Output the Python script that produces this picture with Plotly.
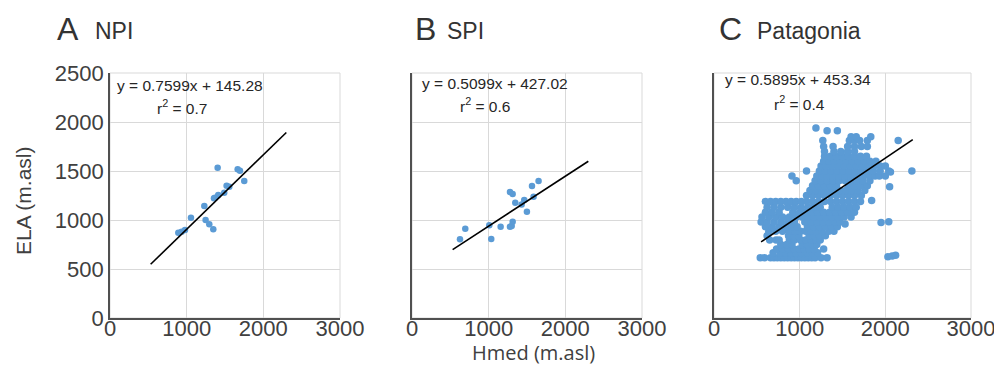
import plotly.graph_objects as go

# ---------------- data ----------------
npi_hmed = [1404, 1665, 1695, 1751, 1521, 1556, 1490, 1412, 1369, 1356, 1230, 1056, 1247, 1295, 1347, 891, 934, 978]
npi_ela = [1534, 1517, 1503, 1398, 1350, 1340, 1279, 1255, 1228, 1221, 1143, 1023, 1000, 956, 905, 870, 881, 898]

spi_hmed = [626, 695, 1034, 1008, 1156, 1278, 1300, 1313, 1278, 1313, 1347, 1430, 1464, 1499, 1586, 1565, 1651]
spi_ela = [803, 911, 806, 946, 932, 932, 939, 983, 1286, 1265, 1177, 1157, 1204, 1085, 1238, 1347, 1398]

# Patagonia: rows of (ELA, [Hmed values]), plus scattered points
pat_rows = [
    (615, [540, 590, 660, 700, 740, 780, 820, 860, 900, 940, 980, 1020, 1060, 1100, 1140, 1180, 1250, 1320]),
    (665, [690, 770, 840, 900, 960, 1020, 1090, 1150, 1210]),
    (705, [730, 800, 870, 930, 990, 1050, 1110, 1170, 1280]),
    (750, [780, 850, 910, 1030, 1090, 1150, 1200]),
    (795, [650, 725, 760, 880, 940, 1010, 1070, 1130, 1190, 1240]),
    (840, [620, 870, 930, 990, 1110, 1170, 1230, 1300]),
    (885, [640, 720, 800, 880, 950, 1010, 1070, 1130, 1190, 1260, 1340, 1400]),
    (930, [600, 680, 760, 840, 910, 970, 1090, 1160, 1230, 1300, 1370, 1440]),
    (980, [550, 620, 700, 780, 860, 940, 1060, 1130, 1200, 1270, 1340, 1410, 1470]),
    (1030, [560, 640, 720, 800, 880, 960, 1030, 1100, 1170, 1240, 1310, 1380, 1450, 1520, 1600]),
    (1080, [600, 680, 760, 920, 1000, 1070, 1140, 1210, 1280, 1350, 1420, 1490, 1560, 1640]),
    (1130, [620, 700, 780, 860, 940, 1020, 1100, 1170, 1240, 1380, 1450, 1520, 1590, 1660]),
    (1190, [600, 660, 720, 780, 840, 900, 960, 1020, 1080, 1150, 1220, 1290, 1360, 1430, 1500, 1570, 1640, 1710]),
    (1250, [1080, 1150, 1220, 1290, 1360, 1430, 1500, 1570, 1640, 1720]),
    (1300, [1120, 1190, 1260, 1330, 1400, 1470, 1540, 1610, 1680, 1760]),
    (1350, [1150, 1220, 1290, 1360, 1430, 1570, 1640, 1710, 1790]),
    (1400, [960, 1180, 1250, 1320, 1390, 1460, 1530, 1600, 1670, 1740, 1820]),
    (1450, [910, 1200, 1260, 1320, 1390, 1460, 1530, 1600, 1670, 1740, 1810, 1880, 1930]),
    (1500, [1080, 1230, 1300, 1370, 1440, 1510, 1580, 1650, 1720, 1790, 1860, 1940, 2040, 2310]),
    (1550, [1250, 1310, 1380, 1450, 1520, 1590, 1660, 1730, 1800, 1870, 1940, 2000]),
    (1600, [1280, 1340, 1400, 1470, 1540, 1610, 1680, 1750, 1820, 1890]),
    (1650, [1290, 1360, 1430, 1500, 1570, 1640, 1710, 1780]),
    (1700, [1290, 1400, 1480, 1560, 1640]),
    (1750, [1280, 1390, 1560, 1640, 1720, 1790]),
    (1810, [1270, 1580, 1640, 1700, 1790, 2150]),
    (1850, [1600, 1660, 1830]),
]
pat_extra_hmed = [1190, 1320, 1440, 1530, 1950, 2040, 2050, 1840, 2030, 2080, 2120, 2000, 2060]
pat_extra_ela = [1940, 1910, 1910, 960, 975, 983, 1340, 1200, 625, 632, 640, 1450, 1490]

pat_hmed = [x for ela, xs in pat_rows for x in xs] + pat_extra_hmed
pat_ela = [ela for ela, xs in pat_rows for x in xs] + pat_extra_ela

# regression lines (slope, intercept, x-extent)
panels = ["A", "B", "C"]
names = ["NPI", "SPI", "Patagonia"]
slopes = [0.7599, 0.5099, 0.5895]
intercepts = [145.28, 427.02, 453.34]
line_x = [[530, 2300], [530, 2300], [550, 2320]]
equations = ["y = 0.7599x + 145.28", "y = 0.5099x + 427.02", "y = 0.5895x + 453.34"]
r2 = ["0.7", "0.6", "0.4"]

x_ticks = [0, 1000, 2000, 3000]
y_ticks = [0, 500, 1000, 1500, 2000, 2500]

# ---------------- layout geometry ----------------
W, H = 994, 374
x_dom_px = [(110, 340), (412, 642), (714, 971)]
y_top, y_bot = 73, 318
y_dom = [1 - y_bot / H, 1 - y_top / H]

BLUE = "#5b9bd5"
AXIS = "#505050"
GRID = "#d9d9d9"
TXT = "#404040"
FONT = "Liberation Sans, Arial, sans-serif"

fig = go.Figure()
data = [(npi_hmed, npi_ela, 6.5), (spi_hmed, spi_ela, 6.5), (pat_hmed, pat_ela, 7.5)]

for i in range(3):
    xa = "x" if i == 0 else f"x{i+1}"
    ya = "y" if i == 0 else f"y{i+1}"
    xs, ys, ms = data[i]
    fig.add_trace(go.Scatter(x=xs, y=ys, mode="markers", xaxis=xa, yaxis=ya,
                             marker=dict(color=BLUE, size=ms, line=dict(width=0)),
                             showlegend=False, hoverinfo="skip"))
    lx = line_x[i]
    ly = [slopes[i] * v + intercepts[i] for v in lx]
    fig.add_trace(go.Scatter(x=lx, y=ly, mode="lines", xaxis=xa, yaxis=ya,
                             line=dict(color="black", width=1.6),
                             showlegend=False, hoverinfo="skip"))

    d = [x_dom_px[i][0] / W, x_dom_px[i][1] / W]
    xkey = "xaxis" if i == 0 else f"xaxis{i+1}"
    ykey = "yaxis" if i == 0 else f"yaxis{i+1}"
    fig.layout[xkey] = dict(domain=d, anchor=ya, range=[0, 3000], tickvals=x_ticks,
                            showgrid=True, gridcolor=GRID, gridwidth=1, zeroline=False,
                            showline=True, linecolor=AXIS, linewidth=1.6, automargin=False,
                            ticks="", ticklabelstandoff=-10, ticklabeloverflow="allow",
                            tickfont=dict(family=FONT, size=22, color=TXT),
                            fixedrange=True)
    fig.layout[ykey] = dict(domain=y_dom, anchor=xa, range=[0, 2500], tickvals=y_ticks,
                            showgrid=True, gridcolor=GRID, gridwidth=1, zeroline=False,
                            showline=True, linecolor=AXIS, linewidth=1.6, automargin=False,
                            ticks="", showticklabels=(i == 0), ticklabelstandoff=0,
                            ticklabeloverflow="allow",
                            tickfont=dict(family=FONT, size=22, color=TXT),
                            fixedrange=True)
    # light frame (top / right edges)
    fig.add_shape(type="rect", xref="paper", yref="paper", x0=d[0], x1=d[1], y0=y_dom[0], y1=y_dom[1],
                  line=dict(color=GRID, width=1), layer="below")

    # panel title: letter + region name
    lx0 = [55, 413, 717][i]
    nx0 = [93, 445, 755][i]
    fig.add_annotation(xref="paper", yref="paper", x=lx0 / W, y=1 - 49 / H,
                       xanchor="left", yanchor="bottom", showarrow=False, text=panels[i],
                       font=dict(family=FONT, size=32, color="#333333"))
    fig.add_annotation(xref="paper", yref="paper", x=nx0 / W, y=1 - 46 / H,
                       xanchor="left", yanchor="bottom", showarrow=False, text=names[i],
                       font=dict(family=FONT, size=23, color="#333333"))
    # equation
    eq_x = [115, 420, 723][i]
    eq_y = [85, 83, 80][i]
    r_x = [155, 458, 772][i]
    r_y = [107, 105, 103][i]
    fig.add_annotation(xref="paper", yref="paper", x=eq_x / W, y=1 - eq_y / H, xanchor="left", yanchor="middle",
                       showarrow=False, text=equations[i],
                       font=dict(family=FONT, size=15.5, color="#262626"))
    fig.add_annotation(xref="paper", yref="paper", x=r_x / W, y=1 - r_y / H, xanchor="left", yanchor="middle",
                       showarrow=False, text=f"r<sup>2</sup> = {r2[i]}",
                       font=dict(family=FONT, size=15.5, color="#262626"))

# axis titles
fig.add_annotation(xref="paper", yref="paper", x=23 / W, y=1 - 201 / H, xanchor="center", yanchor="middle",
                   showarrow=False, textangle=-90, text="ELA (m.asl)",
                   font=dict(family=FONT, size=21, color=TXT))
fig.add_annotation(xref="paper", yref="paper", x=533 / W, y=1 - 352 / H, xanchor="center", yanchor="middle",
                   showarrow=False, text="Hmed (m.asl)",
                   font=dict(family="Open Sans, Liberation Sans, sans-serif", size=20, color=TXT))

fig.update_layout(width=W, height=H, margin=dict(l=0, r=0, t=0, b=0),
                  paper_bgcolor="white", plot_bgcolor="white")

fig.write_html("out.html", config={"displayModeBar": False},
               post_script="document.body.style.margin='0';document.body.style.overflow='hidden';")
